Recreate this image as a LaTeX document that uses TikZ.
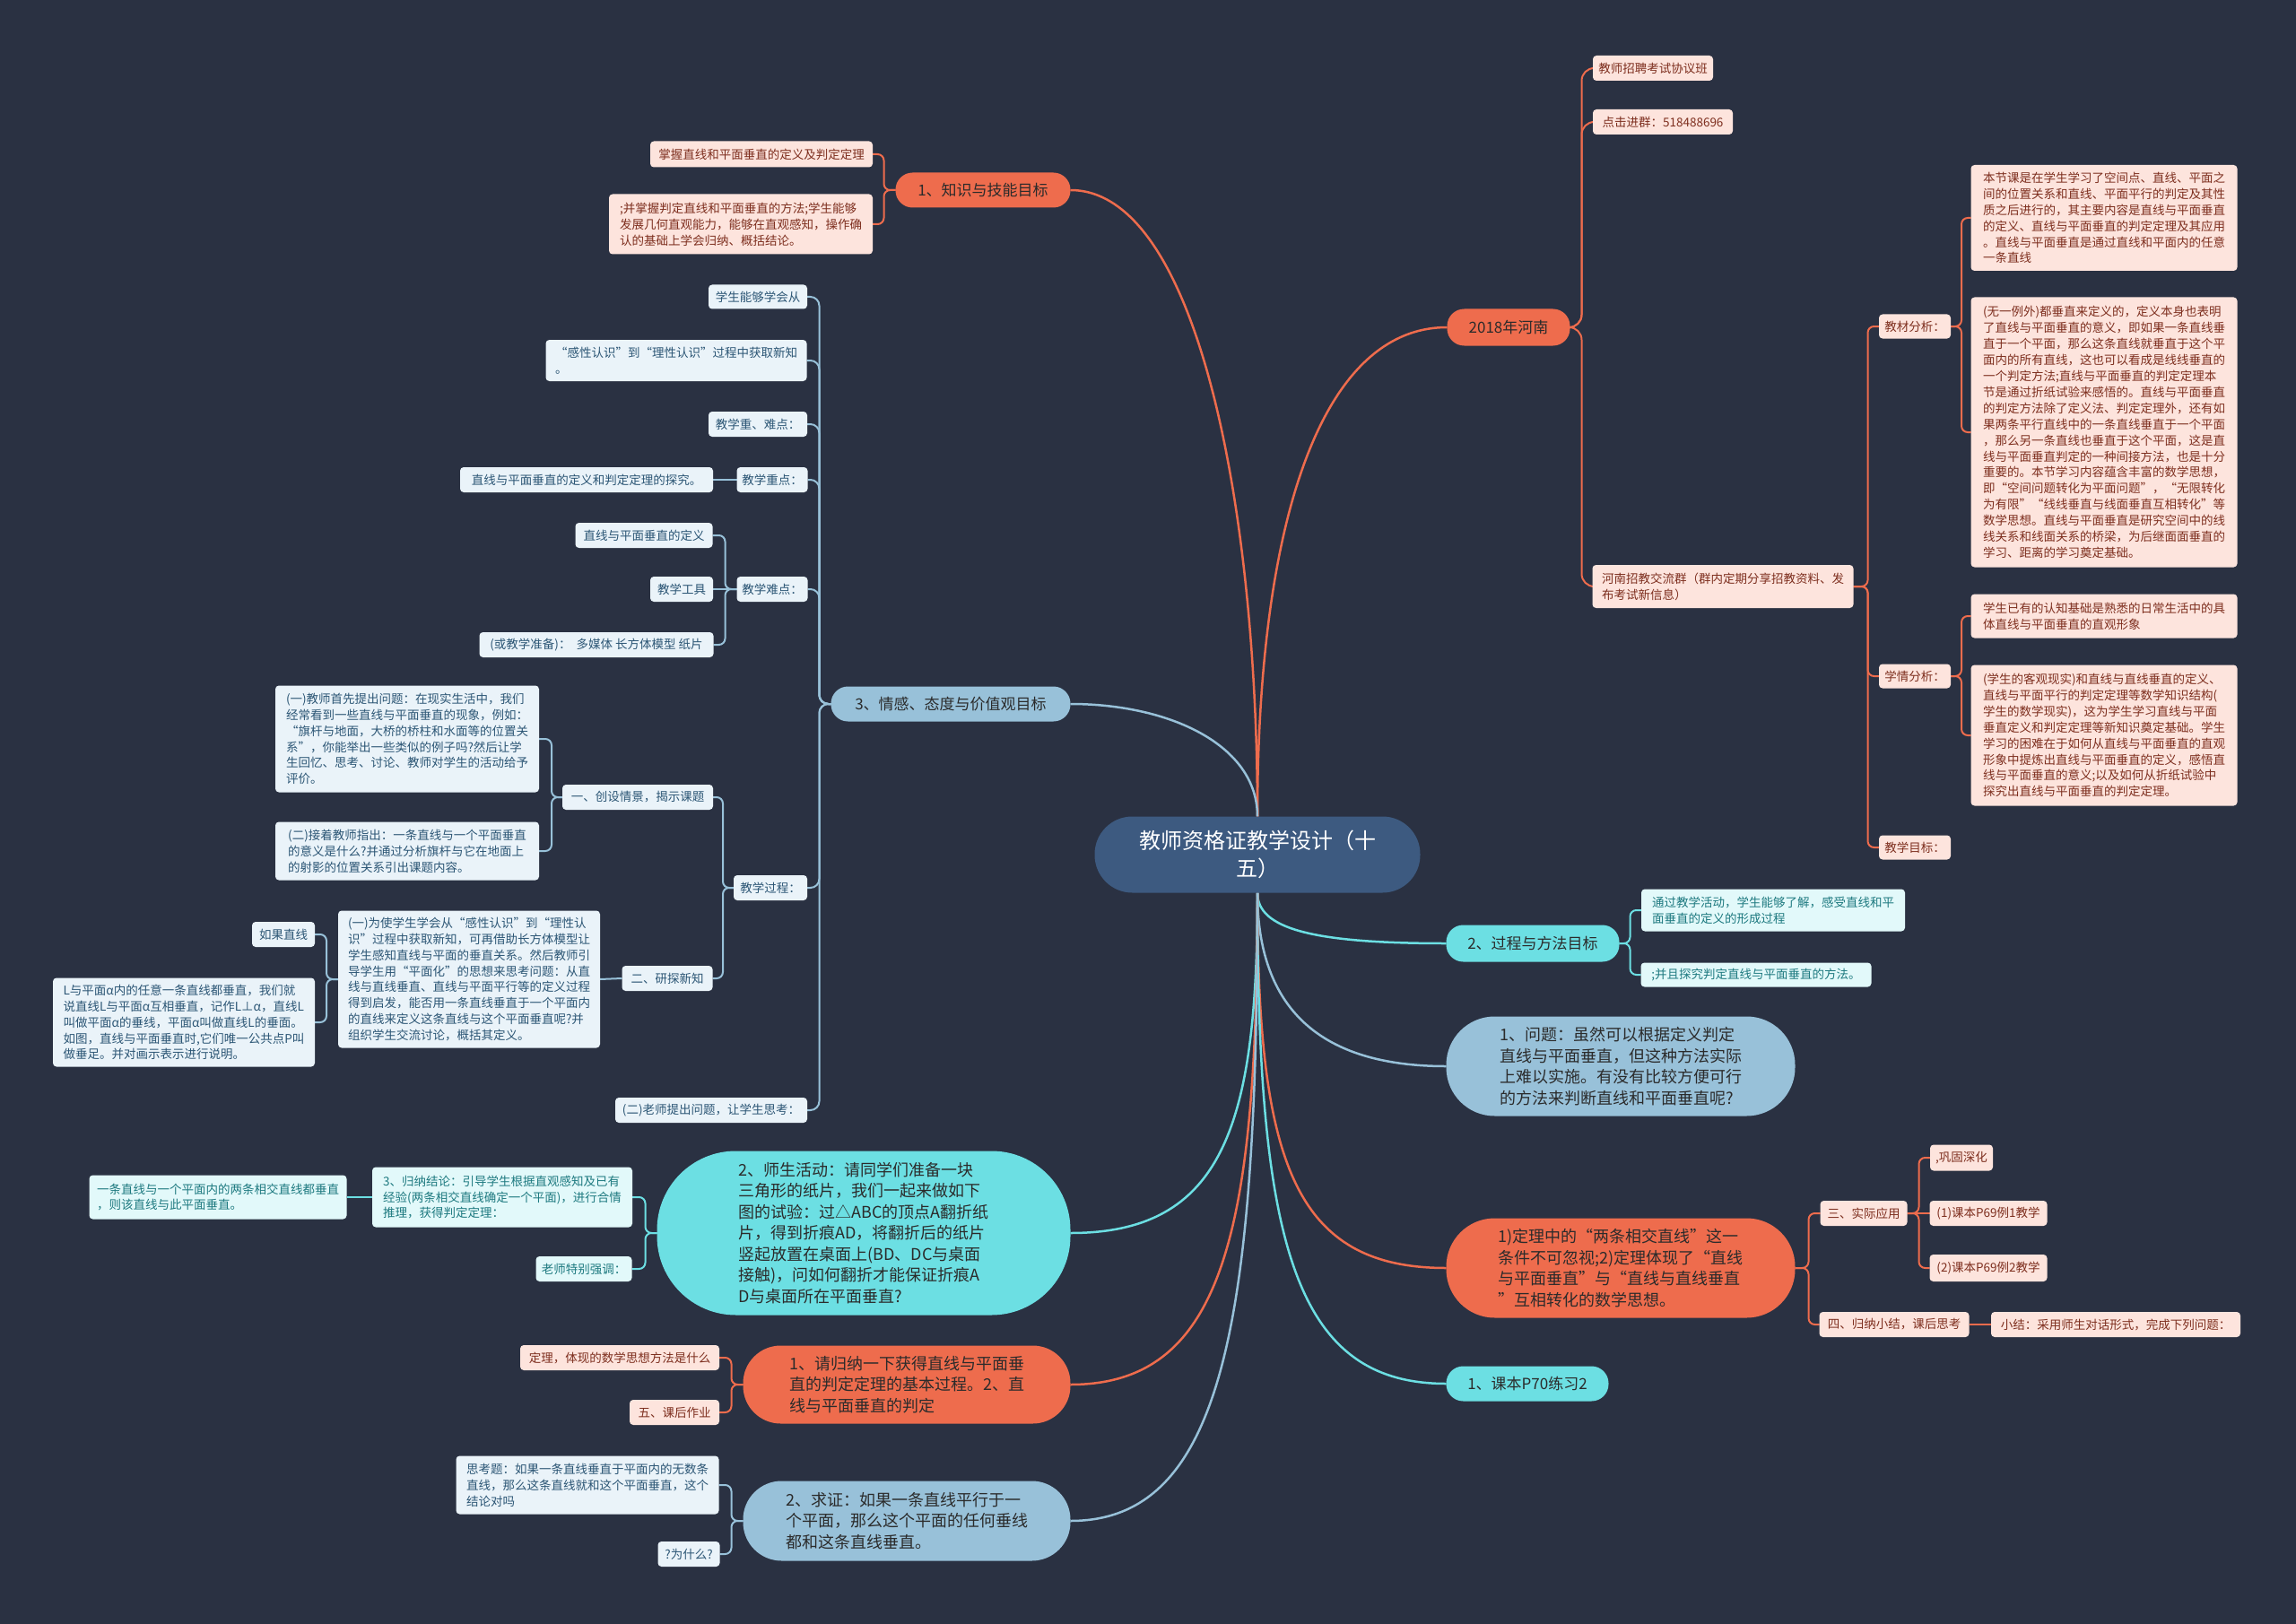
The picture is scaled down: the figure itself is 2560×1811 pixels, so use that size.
\documentclass[tikz,border=0pt]{standalone}
\usepackage{fontspec}
\setmainfont{Noto Sans CJK SC}
\definecolor{bg}{HTML}{2A3142}
\definecolor{orn}{HTML}{EE6C4D}
\definecolor{lbl}{HTML}{98C1D9}
\definecolor{cyn}{HTML}{6CDFE3}
\definecolor{ctr}{HTML}{3D5A80}
\definecolor{pfill}{HTML}{FDE4DD}
\definecolor{ptext}{HTML}{7E2F1F}
\definecolor{bfill}{HTML}{EAF3F9}
\definecolor{btext}{HTML}{2C5675}
\definecolor{cfill}{HTML}{E2F9FA}
\definecolor{ctext}{HTML}{1E7A80}
\definecolor{dtext}{HTML}{2B2B2B}
\pgfdeclarelayer{bgl}
\pgfsetlayers{bgl,main}
\tikzset{
  base/.style={rectangle, inner sep=0pt, outer sep=0pt},
  leaf/.style={base, rounded corners=4pt, align=left, font=\fontsize{13.5}{17.9}\selectfont},
  lp/.style={leaf, fill=pfill, text=ptext},
  lb/.style={leaf, fill=bfill, text=btext},
  lc/.style={leaf, fill=cfill, text=ctext},
  br/.style={base, rounded corners=19pt, align=center, font=\fontsize{17}{22}\selectfont, text=dtext},
  big/.style={base, align=left, font=\fontsize{18}{23.5}\selectfont, text=dtext},
  wh/.style 2 args={minimum width=#1, minimum height=#2},
  co/.style={draw=orn, line width=2pt, rounded corners=7pt},
  cb/.style={draw=lbl, line width=2pt, rounded corners=7pt},
  cc/.style={draw=cyn, line width=2pt, rounded corners=7pt},
  mo/.style={draw=orn, line width=2.5pt},
  mb/.style={draw=lbl, line width=2.5pt},
  mc/.style={draw=cyn, line width=2.5pt},
}
\begin{document}
\begin{tikzpicture}[x=1pt, y=-1pt]
\useasboundingbox (0,0) rectangle (2560,1811);

% central
\node[base, fill=ctr, rounded corners=42pt, wh={363}{85}, text=white, align=center, font=\fontsize{24}{31}\selectfont] (ctr) at (1402,953) {教师资格证教学设计（十\\五）};

% ---------- right side ----------
\node[br, fill=orn, wh={137}{41}] (r1) at (1682,365) {2018年河南};
\node[lp, wh={134}{28}] (r1a) at (1843,76) {教师招聘考试协议班};
\node[lp, wh={156}{28}] (r1b) at (1854,136) {点击进群：518488696};
\node[lp, wh={291}{48}] (r1c) at (1921,654) {河南招教交流群（群内定期分享招教资料、发\\布考试新信息）};
\node[lp, wh={80}{27}] (r1c1) at (2135,364) {教材分析：};
\node[lp, wh={80}{27}] (r1c2) at (2135,754) {学情分析：};
\node[lp, wh={80}{27}] (r1c3) at (2135,945) {教学目标：};
\node[lp, wh={297}{118}] (jc1) at (2346,243) {本节课是在学生学习了空间点、直线、平面之\\间的位置关系和直线、平面平行的判定及其性\\质之后进行的，其主要内容是直线与平面垂直\\的定义、直线与平面垂直的判定定理及其应用\\。直线与平面垂直是通过直线和平面内的任意\\一条直线};
\node[lp, wh={297}{301}] (jc2) at (2346,482) {(无一例外)都垂直来定义的，定义本身也表明\\了直线与平面垂直的意义，即如果一条直线垂\\直于一个平面，那么这条直线就垂直于这个平\\面内的所有直线，这也可以看成是线线垂直的\\一个判定方法;直线与平面垂直的判定定理本\\节是通过折纸试验来感悟的。直线与平面垂直\\的判定方法除了定义法、判定定理外，还有如\\果两条平行直线中的一条直线垂直于一个平面\\，那么另一条直线也垂直于这个平面，这是直\\线与平面垂直判定的一种间接方法，也是十分\\重要的。本节学习内容蕴含丰富的数学思想，\\即“空间问题转化为平面问题”，“无限转化\\为有限”“线线垂直与线面垂直互相转化”等\\数学思想。直线与平面垂直是研究空间中的线\\线关系和线面关系的桥梁，为后继面面垂直的\\学习、距离的学习奠定基础。};
\node[lp, wh={297}{49}] (xq1) at (2346,687) {学生已有的认知基础是熟悉的日常生活中的具\\体直线与平面垂直的直观形象};
\node[lp, wh={297}{157}] (xq2) at (2346,820) {(学生的客观现实)和直线与直线垂直的定义、\\直线与平面平行的判定定理等数学知识结构(\\学生的数学现实)，这为学生学习直线与平面\\垂直定义和判定定理等新知识奠定基础。学生\\学习的困难在于如何从直线与平面垂直的直观\\形象中提炼出直线与平面垂直的定义，感悟直\\线与平面垂直的意义;以及如何从折纸试验中\\探究出直线与平面垂直的判定定理。};

\node[br, fill=cyn, wh={193}{41}] (r2) at (1709,1052) {2、过程与方法目标};
\node[lc, wh={294}{47}] (r2a) at (1977,1015) {通过教学活动，学生能够了解，感受直线和平\\面垂直的定义的形成过程};
\node[lc, wh={257}{27}] (r2b) at (1958,1087) {;并且探究判定直线与平面垂直的方法。};

\node[big, fill=lbl, rounded corners=54pt, wh={389}{111}] (r3) at (1807,1189) {1、问题：虽然可以根据定义判定\\直线与平面垂直，但这种方法实际\\上难以实施。有没有比较方便可行\\的方法来判断直线和平面垂直呢?};

\node[big, fill=orn, rounded corners=54pt, wh={389}{111}] (r4) at (1807,1414) {1)定理中的“两条相交直线”这一\\条件不可忽视;2)定理体现了“直线\\与平面垂直”与“直线与直线垂直\\”互相转化的数学思想。};
\node[lp, wh={97}{28}] (r4a) at (2078,1353) {三、实际应用};
\node[lp, wh={70}{29}] (r4a1) at (2187,1291) {,巩固深化};
\node[lp, wh={131}{28}] (r4a2) at (2217,1353) {(1)课本P69例1教学};
\node[lp, wh={131}{30}] (r4a3) at (2217,1414) {(2)课本P69例2教学};
\node[lp, wh={167}{28}] (r4b) at (2112,1477) {四、归纳小结，课后思考};
\node[lp, wh={278}{28}] (r4b1) at (2359,1477) {小结：采用师生对话形式，完成下列问题：};

\node[br, fill=cyn, wh={181}{39}] (r5) at (1703,1543) {1、课本P70练习2};

% ---------- left side ----------
\node[br, fill=orn, wh={195}{39}] (l1) at (1096,212) {1、知识与技能目标};
\node[lp, wh={248}{29}] (l1a) at (849,172) {掌握直线和平面垂直的定义及判定定理};
\node[lp, wh={294}{67}] (l1b) at (826,250) {;并掌握判定直线和平面垂直的方法;学生能够\\发展几何直观能力，能够在直观感知，操作确\\认的基础上学会归纳、概括结论。};

\node[br, fill=lbl, wh={267}{39}] (l2) at (1060,785) {3、情感、态度与价值观目标};
\node[lb, wh={110}{27}] (l2a) at (845,331) {学生能够学会从};
\node[lb, wh={291}{46}] (l2b) at (754,402) {“感性认识”到“理性认识”过程中获取新知\\。};
\node[lb, wh={110}{28}] (l2c) at (845,473) {教学重、难点：};
\node[lb, wh={79}{28}] (l2d) at (861,535) {教学重点：};
\node[lb, wh={282}{28}] (l2d1) at (654,535) {直线与平面垂直的定义和判定定理的探究。};
\node[lb, wh={79}{28}] (l2e) at (861,657) {教学难点：};
\node[lb, wh={153}{28}] (l2e1) at (718,597) {直线与平面垂直的定义};
\node[lb, wh={70}{28}] (l2e2) at (760,657) {教学工具};
\node[lb, wh={261}{28}] (l2e3) at (665,719) {(或教学准备)：\ \ 多媒体 长方体模型 纸片};
\node[lb, wh={82}{28}] (l2f) at (859,990) {教学过程：};
\node[lb, wh={168}{28}] (l2f1) at (711,889) {一、创设情景，揭示课题};
\node[lb, wh={294}{119}] (l2f1a) at (454,824) {(一)教师首先提出问题：在现实生活中，我们\\经常看到一些直线与平面垂直的现象，例如：\\“旗杆与地面，大桥的桥柱和水面等的位置关\\系”，你能举出一些类似的例子吗?然后让学\\生回忆、思考、讨论、教师对学生的活动给予\\评价。};
\node[lb, wh={294}{65}] (l2f1b) at (454,949) {(二)接着教师指出：一条直线与一个平面垂直\\的意义是什么?并通过分析旗杆与它在地面上\\的射影的位置关系引出课题内容。};
\node[lb, wh={101}{28}] (l2f2) at (744,1091) {二、研探新知};
\node[lb, wh={292}{153}] (l2f2a) at (523,1092) {(一)为使学生学会从“感性认识”到“理性认\\识”过程中获取新知，可再借助长方体模型让\\学生感知直线与平面的垂直关系。然后教师引\\导学生用“平面化”的思想来思考问题：从直\\线与直线垂直、直线与平面平行等的定义过程\\得到启发，能否用一条直线垂直于一个平面内\\的直线来定义这条直线与这个平面垂直呢?并\\组织学生交流讨论，概括其定义。};
\node[lb, wh={70}{28}] (l2f2a1) at (316,1042) {如果直线};
\node[lb, wh={292}{99}] (l2f2a2) at (205,1140) {L与平面α内的任意一条直线都垂直，我们就\\说直线L与平面α互相垂直，记作L⊥α，直线L\\叫做平面α的垂线，平面α叫做直线L的垂面。\\如图，直线与平面垂直时,它们唯一公共点P叫\\做垂足。并对画示表示进行说明。};
\node[lb, wh={214}{28}] (l2g) at (793,1238) {(二)老师提出问题，让学生思考：};

\node[big, fill=cyn, rounded corners=88pt, wh={461}{183}] (l3) at (963,1375) {2、师生活动：请同学们准备一块\\三角形的纸片，我们一起来做如下\\图的试验：过△ABC的顶点A翻折纸\\片，得到折痕AD，将翻折后的纸片\\竖起放置在桌面上(BD、DC与桌面\\接触)，问如何翻折才能保证折痕A\\D与桌面所在平面垂直?};
\node[lc, wh={290}{67}] (l3a) at (560,1335) {3、归纳结论：引导学生根据直观感知及已有\\经验(两条相交直线确定一个平面)，进行合情\\推理，获得判定定理：};
\node[lc, wh={287}{49}] (l3a1) at (243,1335) {一条直线与一个平面内的两条相交直线都垂直\\，则该直线与此平面垂直。};
\node[lc, wh={107}{28}] (l3b) at (651,1415) {老师特别强调：};

\node[big, fill=orn, rounded corners=42pt, wh={365}{87}] (l4) at (1011,1544) {1、请归纳一下获得直线与平面垂\\直的判定定理的基本过程。2、直\\线与平面垂直的判定};
\node[lp, wh={222}{28}] (l4a) at (691,1514) {定理，体现的数学思想方法是什么};
\node[lp, wh={100}{28}] (l4b) at (752,1575) {五、课后作业};

\node[big, fill=lbl, rounded corners=43pt, wh={365}{89}] (l5) at (1011,1696) {2、求证：如果一条直线平行于一\\个平面，那么这个平面的任何垂线\\都和这条直线垂直。};
\node[lb, wh={293}{65}] (l5a) at (655,1656) {思考题：如果一条直线垂直于平面内的无数条\\直线，那么这条直线就和这个平面垂直，这个\\结论对吗};
\node[lb, wh={69}{28}] (l5b) at (768,1733) {?为什么?};

\begin{pgfonlayer}{bgl}
\fill[bg] (0,0) rectangle (2560,1811);
% main curves
\draw[mo] (ctr.north) .. controls +(0,-330) and +(-140,0) .. (r1.west);
\draw[mo] (ctr.north) .. controls +(0,-350) and +(140,0) .. (l1.east);
\draw[mb] (ctr.north) .. controls +(0,-80) and +(110,0) .. (l2.east);
\draw[mc] (ctr.south) .. controls +(0,40) and +(-150,0) .. (r2.west);
\draw[mb] (ctr.south) .. controls +(0,130) and +(-140,0) .. (r3.west);
\draw[mo] (ctr.south) .. controls +(0,300) and +(-170,0) .. (r4.west);
\draw[mc] (ctr.south) .. controls +(0,390) and +(-170,0) .. (r5.west);
\draw[mc] (ctr.south) .. controls +(0,260) and +(170,0) .. (l3.east);
\draw[mo] (ctr.south) .. controls +(0,380) and +(170,0) .. (l4.east);
\draw[mb] (ctr.south) .. controls +(0,480) and +(170,0) .. (l5.east);
% right subtrees
\draw[co, rounded corners=14pt] (r1.east) -- ++(13,0) |- (r1a.west);
\draw[co, rounded corners=14pt] (r1.east) -- ++(13,0) |- (r1b.west);
\draw[co, rounded corners=14pt] (r1.east) -- ++(13,0) |- (r1c.west);
\draw[co] (r1c.east) -- ++(16,0) |- (r1c1.west);
\draw[co] (r1c.east) -- ++(16,0) |- (r1c2.west);
\draw[co] (r1c.east) -- ++(16,0) |- (r1c3.west);
\draw[co] (r1c1.east) -- ++(12,0) |- (jc1.west);
\draw[co] (r1c1.east) -- ++(12,0) |- (jc2.west);
\draw[co] (r1c2.east) -- ++(12,0) |- (xq1.west);
\draw[co] (r1c2.east) -- ++(12,0) |- (xq2.west);
\draw[cc] (r2.east) -- ++(12,0) |- (r2a.west);
\draw[cc] (r2.east) -- ++(12,0) |- (r2b.west);
\draw[co] (r4.east) -- ++(15,0) |- (r4a.west);
\draw[co] (r4.east) -- ++(15,0) |- (r4b.west);
\draw[co] (r4a.east) -- ++(13,0) |- (r4a1.west);
\draw[co] (r4a.east) -- (r4a2.west);
\draw[co] (r4a.east) -- ++(13,0) |- (r4a3.west);
\draw[co] (r4b.east) -- (r4b1.west);
% left subtrees
\draw[co] (l1.west) -- ++(-13,0) |- (l1a.east);
\draw[co] (l1.west) -- ++(-13,0) |- (l1b.east);
\draw[cb, rounded corners=10pt] (l2.west) -- ++(-13,0) |- (l2a.east);
\draw[cb, rounded corners=10pt] (l2.west) -- ++(-13,0) |- (l2b.east);
\draw[cb, rounded corners=10pt] (l2.west) -- ++(-13,0) |- (l2c.east);
\draw[cb, rounded corners=10pt] (l2.west) -- ++(-13,0) |- (l2d.east);
\draw[cb, rounded corners=10pt] (l2.west) -- ++(-13,0) |- (l2e.east);
\draw[cb, rounded corners=10pt] (l2.west) -- ++(-13,0) |- (l2f.east);
\draw[cb, rounded corners=10pt] (l2.west) -- ++(-13,0) |- (l2g.east);
\draw[cb] (l2d.west) -- (l2d1.east);
\draw[cb] (l2e.west) -- ++(-13,0) |- (l2e1.east);
\draw[cb] (l2e.west) -- (l2e2.east);
\draw[cb] (l2e.west) -- ++(-13,0) |- (l2e3.east);
\draw[cb] (l2f.west) -- ++(-12,0) |- (l2f1.east);
\draw[cb] (l2f.west) -- ++(-12,0) |- (l2f2.east);
\draw[cb] (l2f1.west) -- ++(-12,0) |- (l2f1a.east);
\draw[cb] (l2f1.west) -- ++(-12,0) |- (l2f1b.east);
\draw[cb] (l2f2.west) -- (l2f2a.east);
\draw[cb] (l2f2a.west) -- ++(-13,0) |- (l2f2a1.east);
\draw[cb] (l2f2a.west) -- ++(-13,0) |- (l2f2a2.east);
\draw[cc] (l3.west) -- ++(-13,0) |- (l3a.east);
\draw[cc] (l3.west) -- ++(-13,0) |- (l3b.east);
\draw[cc] (l3a.west) -- (l3a1.east);
\draw[co] (l4.west) -- ++(-13,0) |- (l4a.east);
\draw[co] (l4.west) -- ++(-13,0) |- (l4b.east);
\draw[cb] (l5.west) -- ++(-13,0) |- (l5a.east);
\draw[cb] (l5.west) -- ++(-13,0) |- (l5b.east);
\end{pgfonlayer}
\end{tikzpicture}
\end{document}
